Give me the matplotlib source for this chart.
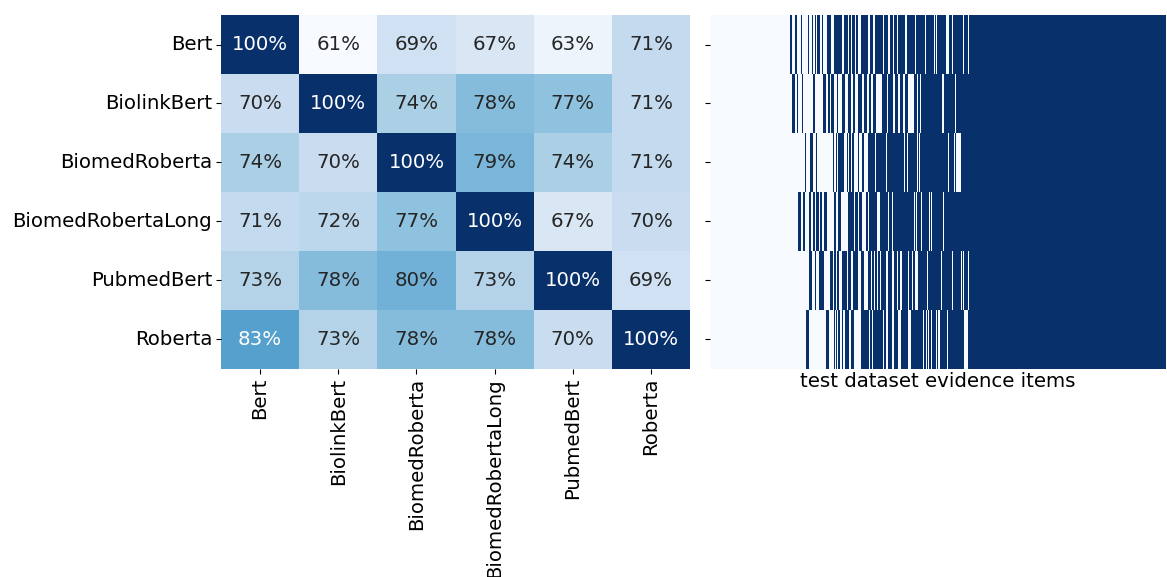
import numpy as np
import matplotlib
matplotlib.use("Agg")
import matplotlib.pyplot as plt
import seaborn as sns

models = ["Bert", "BiolinkBert", "BiomedRoberta", "BiomedRobertaLong", "PubmedBert", "Roberta"]

# pairwise agreement between models (row vs column)
agreement = [
    [1.00, 0.61, 0.69, 0.67, 0.63, 0.71],
    [0.70, 1.00, 0.74, 0.78, 0.77, 0.71],
    [0.74, 0.70, 1.00, 0.79, 0.74, 0.71],
    [0.71, 0.72, 0.77, 1.00, 0.67, 0.70],
    [0.73, 0.78, 0.80, 0.73, 1.00, 0.69],
    [0.83, 0.73, 0.78, 0.78, 0.70, 1.00],
]

# test items (sorted); ranges of item indices each model got right
n_items = 455
correct_bert = [(80, 82), (85, 87), (91, 92), (98, 99), (102, 103), (105, 106), (107, 110), (112, 113),
                (117, 121), (124, 132), (134, 138), (139, 141), (142, 145), (146, 148), (151, 158),
                (160, 163), (165, 173), (174, 178), (180, 183), (184, 187), (188, 195), (197, 205),
                (206, 215), (216, 224), (225, 226), (227, 235), (238, 241), (242, 252), (253, 257),
                (258, 455)]
correct_biolinkbert = [(82, 85), (87, 88), (92, 93), (103, 105), (113, 116), (118, 120), (121, 124),
                       (127, 128), (132, 135), (138, 141), (143, 145), (148, 152), (154, 157),
                       (159, 161), (163, 166), (172, 177), (178, 183), (185, 188), (190, 193),
                       (195, 198), (204, 207), (208, 210), (211, 231), (233, 244), (245, 455)]
correct_biomedroberta = [(95, 96), (100, 103), (106, 107), (123, 124), (126, 127), (128, 134),
                         (137, 138), (139, 141), (142, 144), (148, 149), (152, 154), (158, 165),
                         (166, 176), (177, 194), (195, 197), (198, 207), (208, 209), (210, 237),
                         (238, 243), (244, 245), (250, 455)]
correct_biomedrobertalong = [(88, 91), (93, 95), (99, 101), (103, 105), (106, 109), (110, 112),
                             (114, 117), (124, 126), (128, 131), (138, 144), (145, 148), (149, 152),
                             (156, 158), (159, 167), (170, 178), (179, 182), (183, 204), (205, 206),
                             (207, 211), (212, 219), (220, 221), (222, 232), (233, 455)]
correct_pubmedbert = [(99, 102), (105, 106), (109, 114), (120, 123), (124, 126), (127, 129),
                      (132, 137), (138, 141), (143, 148), (151, 154), (158, 161), (162, 164),
                      (165, 167), (168, 170), (171, 176), (178, 182), (184, 187), (188, 190),
                      (192, 198), (199, 202), (203, 205), (208, 217), (218, 230), (231, 241),
                      (242, 250), (251, 252), (253, 257), (258, 455)]
correct_roberta = [(96, 99), (116, 119), (124, 125), (126, 127), (128, 130), (132, 133), (135, 139),
                   (141, 144), (151, 159), (160, 162), (163, 173), (174, 176), (178, 182),
                   (184, 188), (191, 198), (201, 213), (214, 216), (217, 218), (219, 221),
                   (222, 226), (227, 228), (229, 236), (237, 253), (257, 455)]

all_correct = [correct_bert, correct_biolinkbert, correct_biomedroberta,
               correct_biomedrobertalong, correct_pubmedbert, correct_roberta]

items = np.zeros((len(models), n_items))
for i, ranges in enumerate(all_correct):
    for a, b in ranges:
        items[i, a:b] = 1

fs = 14.2
fig = plt.figure(figsize=(11.67, 5.77), dpi=100)
ax1 = fig.add_axes([0.1894, 0.3605, 0.4019, 0.6135])
ax2 = fig.add_axes([0.6084, 0.3605, 0.3899, 0.6135])

agree = np.array(agreement)
sns.heatmap(agree, ax=ax1, cmap="Blues", cbar=False, annot=True, fmt=".0%",
            annot_kws={"fontsize": fs}, xticklabels=models, yticklabels=models)
# text colour: white only on the darkest cells
for txt, v in zip(ax1.texts, agree.flatten()):
    txt.set_color("white" if v > 0.81 else "#262626")
ax1.tick_params(axis="both", labelsize=fs, pad=3)
ax1.set_xticklabels(models, rotation=90)
ax1.set_yticklabels(models, rotation=0)

ax2.imshow(items, cmap="Blues", aspect="auto", interpolation="nearest", vmin=0, vmax=1)
ax2.set_yticks(np.arange(len(models)))
ax2.set_yticklabels([])
ax2.set_xticks([])
for s in ax2.spines.values():
    s.set_visible(False)
ax2.set_xlabel("test dataset evidence items", fontsize=fs, labelpad=2)

plt.savefig("out.png", dpi=100)
